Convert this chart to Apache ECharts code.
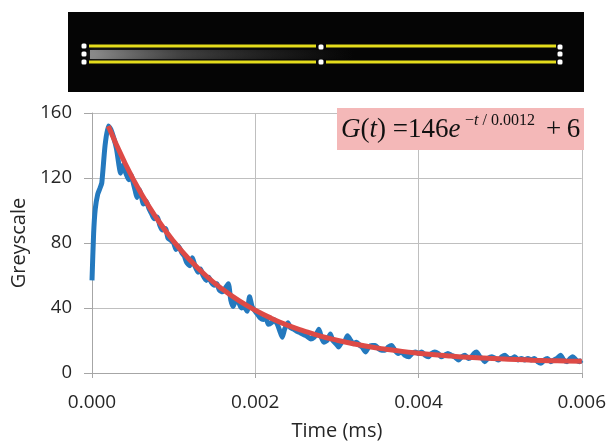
<!DOCTYPE html>
<html><head><meta charset="utf-8">
<script src="https://cdn.jsdelivr.net/npm/echarts@6/dist/echarts.min.js"></script>
<style>html,body{margin:0;padding:0;background:#fff}#c{width:609px;height:446px}</style>
</head><body><div id="c"></div>
<script>
// Tick values
const timeTicks = [0, 0.002, 0.004, 0.006];
const greyTicks = [0, 40, 80, 120, 160];

// Measured (blue) trace
const rawTime = [0,0.00002,0.00004,0.00007,0.0001,0.00012,0.00016,0.0002,0.00023,0.00027,0.0003,0.00033,0.00035,0.00038,0.0004,0.00043,0.00045,0.00048,0.0005,0.00053,0.00055,0.00058,0.0006,0.00063,0.00066,0.0007,0.00073,0.00076,0.0008,0.00083,0.00086,0.0009,0.00093,0.00096,0.001,0.00103,0.00106,0.0011,0.00113,0.00116,0.0012,0.00123,0.00126,0.0013,0.00133,0.00136,0.0014,0.00143,0.00146,0.0015,0.00153,0.00156,0.0016,0.00163,0.00167,0.0017,0.00173,0.00176,0.0018,0.00183,0.00186,0.0019,0.00193,0.00196,0.002,0.00203,0.00206,0.0021,0.00213,0.00216,0.0022,0.00223,0.00227,0.0023,0.00233,0.00236,0.0024,0.00243,0.00247,0.0025,0.00254,0.00258,0.00262,0.00265,0.00268,0.00272,0.00275,0.00278,0.00281,0.00284,0.00288,0.00292,0.00295,0.00299,0.00302,0.00306,0.0031,0.00313,0.00317,0.0032,0.00324,0.00328,0.00331,0.00335,0.00339,0.00343,0.00347,0.00351,0.00355,0.00359,0.00363,0.00367,0.00371,0.00375,0.00379,0.00383,0.00388,0.00392,0.00396,0.004,0.00404,0.00408,0.00412,0.00416,0.0042,0.00424,0.00428,0.00432,0.00436,0.0044,0.00444,0.00449,0.00453,0.00457,0.00461,0.00465,0.00468,0.00471,0.00475,0.00478,0.00481,0.00485,0.0049,0.00494,0.00498,0.00502,0.00506,0.0051,0.00514,0.00518,0.00522,0.00526,0.0053,0.00534,0.00538,0.00542,0.00546,0.0055,0.00554,0.00558,0.00562,0.00566,0.0057,0.00574,0.00578,0.00582,0.00586,0.00589,0.00593,0.00597,0.006];
const rawGrey = [57,86,101,110,114,117,140,152,150,144,138,128,123,128,125,121,119,122,118,112,108,113,110,104,106,101,98,95,96,91,88,89,83,82,80,76,78,74,72,68,66,71,66,62,64,60,57,59,56,54,55,51,50,52,55,45,41,45,43,40,41,38,47,41,38,36,34,33,34,30,31,33,30,26,22,27,31,28,27,26,25,24,23,22,21,22,24,27,22,19,20,24,20,18,16,19,20,23,20,18,19,17,16,13,16,17,17,15,14,14,16,17,14,12,13,11,10,12,13,12,13,11,10,12,13,12,10,11,12,11,10,8,10,11,9,10,12,13,10,9,7,9,10,9,8,10,11,9,9,10,8,9,8,9,8,9,7,6,8,9,7,8,9,11,8,7,9,10,8,7,8];

// Fitted (red) curve
const fitTime = [0.0002,0.0004,0.0006,0.0008,0.001,0.0012,0.0014,0.0016,0.0018,0.002,0.0022,0.0024,0.0026,0.0028,0.003,0.0032,0.0034,0.0036,0.0038,0.004,0.0042,0.0044,0.0046,0.0048,0.005,0.0052,0.0054,0.0056,0.0058,0.006];
const fitGrey = [152,129.6,110.6,94.6,81.0,69.5,59.7,51.5,44.5,38.6,33.6,29.3,25.8,22.7,20.2,18.0,16.1,14.6,13.3,12.2,11.2,10.4,9.7,9.2,8.7,8.3,7.9,7.6,7.4,7.2];

const FONT = 'Open Sans';
const TXT = '#262626';
const chart = echarts.init(document.getElementById('c'), null, {renderer: 'canvas'});

const rawData = rawTime.map((t, i) => [t, rawGrey[i]]);
const fitData = fitTime.map((t, i) => [t, fitGrey[i]]);

const dot = (x, y) => ({type: 'rect', shape: {x: x - 2.5, y: y - 2.5, width: 5, height: 5, r: 1.5}, style: {fill: '#ffffff'}, z: 12});
const yline = (x1, x2, y) => ({type: 'line', shape: {x1: x1, y1: y, x2: x2, y2: y}, style: {stroke: '#e4dc1c', lineWidth: 3}, z: 11});

chart.setOption({
  animation: false,
  backgroundColor: '#ffffff',
  grid: {left: 92, right: 25, top: 113, bottom: 69},
  xAxis: {
    type: 'value', min: timeTicks[0], max: timeTicks[timeTicks.length - 1], interval: timeTicks[1] - timeTicks[0],
    name: 'Time (ms)', nameLocation: 'middle', nameGap: 48,
    nameTextStyle: {fontFamily: FONT, fontSize: 20, color: TXT},
    axisLine: {show: true, lineStyle: {color: '#a6a6a6', width: 1}},
    axisTick: {show: true, length: 5, lineStyle: {color: '#a6a6a6'}},
    axisLabel: {fontFamily: FONT, fontSize: 19, color: TXT, margin: 20, formatter: v => v.toFixed(3)},
    splitLine: {show: true, lineStyle: {color: '#bfbfbf', width: 1}}
  },
  yAxis: {
    type: 'value', min: greyTicks[0], max: greyTicks[greyTicks.length - 1], interval: greyTicks[1] - greyTicks[0],
    name: 'Greyscale', nameLocation: 'middle', nameGap: 60, nameRotate: 90,
    nameTextStyle: {fontFamily: FONT, fontSize: 20, color: TXT},
    axisLine: {show: true, lineStyle: {color: '#a6a6a6', width: 1}},
    axisTick: {show: true, length: 8, lineStyle: {color: '#a6a6a6'}},
    axisLabel: {fontFamily: FONT, fontSize: 18.5, color: TXT, margin: 20, padding: [0, 0, 6, 0]},
    splitLine: {show: true, lineStyle: {color: '#bfbfbf', width: 1}}
  },
  series: [
    {type: 'line', data: rawData, showSymbol: false, smooth: 0.2,
     lineStyle: {color: '#2479be', width: 5}, z: 3},
    {type: 'line', data: fitData, showSymbol: false, smooth: true,
     lineStyle: {color: '#dd4a46', width: 5}, z: 4}
  ],
  graphic: [
    // Kymograph strip
    {type: 'rect', shape: {x: 68, y: 12, width: 516, height: 80}, style: {fill: '#050505'}, z: 10},
    {type: 'rect', shape: {x: 90, y: 50, width: 265, height: 9},
     style: {fill: new echarts.graphic.LinearGradient(0, 0, 1, 0, [
       {offset: 0, color: 'rgba(175,175,175,0.75)'},
       {offset: 0.35, color: 'rgba(110,110,110,0.45)'},
       {offset: 1, color: 'rgba(50,50,50,0)'}]), shadowBlur: 6, shadowColor: 'rgba(120,120,120,0.5)'}, z: 10},
    yline(89, 316, 46), yline(89, 316, 62), yline(326, 556, 46), yline(326, 556, 62),
    dot(84, 46), dot(84, 54), dot(84, 62),
    dot(321, 47), dot(321, 62),
    dot(560, 47), dot(560, 54), dot(560, 62),
    // Equation box
    {type: 'rect', shape: {x: 337, y: 108, width: 247, height: 42}, style: {fill: '#f4b8b8'}, z: 20},
    {type: 'text', x: 341, y: 130, z: 21, style: {
      text: '{i|G}{n|(}{i|t}{n|) =146}{i|e}', verticalAlign: 'middle', align: 'left',
      rich: {
        i: {fontFamily: 'Liberation Serif', fontStyle: 'italic', fontSize: 27, fill: '#111'},
        n: {fontFamily: 'Liberation Serif', fontSize: 27, fill: '#111'}
      }}},
    {type: 'text', x: 465, y: 121, z: 21, style: {
      text: '{n|\u2212}{i|t}{n| / 0.0012}', verticalAlign: 'middle', align: 'left',
      rich: {
        i: {fontFamily: 'Liberation Serif', fontStyle: 'italic', fontSize: 16, fill: '#111'},
        n: {fontFamily: 'Liberation Serif', fontSize: 16, fill: '#111'}
      }}},
    {type: 'text', x: 546, y: 130, z: 21, style: {
      text: '+\u20096', verticalAlign: 'middle', align: 'left',
      fontFamily: 'Liberation Serif', fontSize: 27, fill: '#111'}}
  ]
});
</script></body></html>
